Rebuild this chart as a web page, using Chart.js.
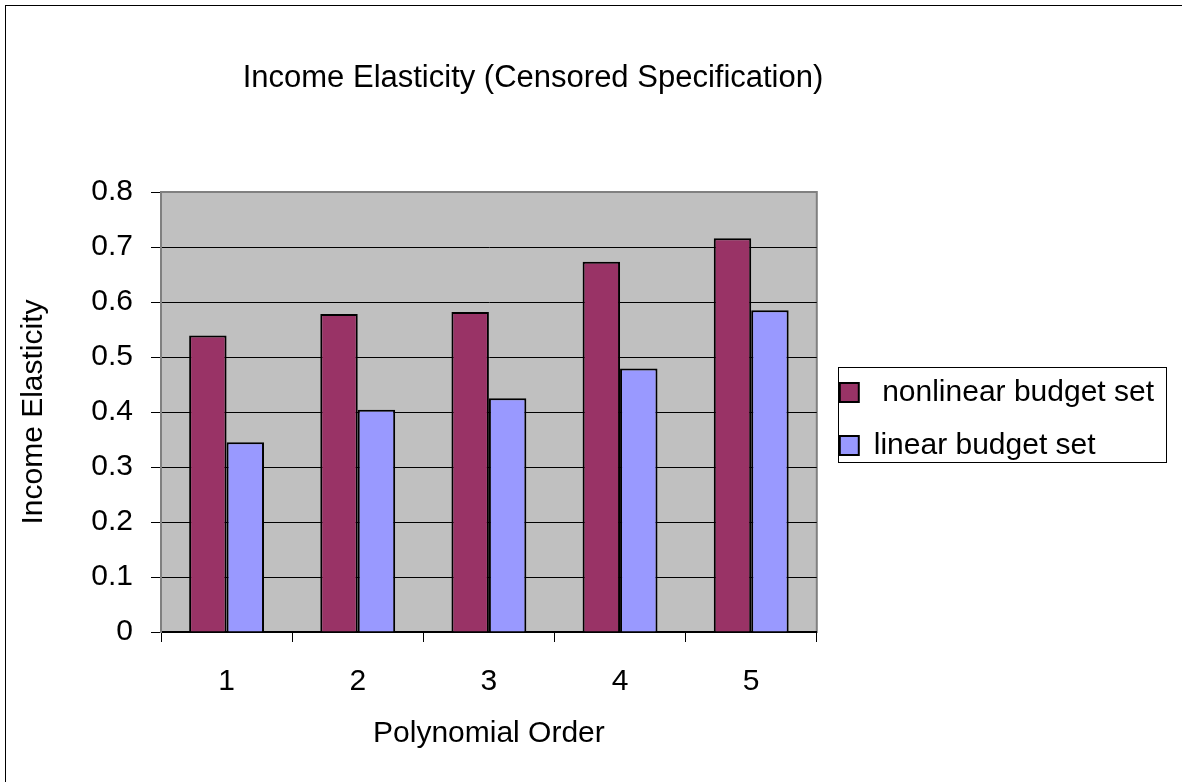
<!DOCTYPE html>
<html>
<head>
<meta charset="utf-8">
<title>Income Elasticity (Censored Specification)</title>
<script src="https://cdn.jsdelivr.net/npm/chart.js@4.4.1/dist/chart.umd.min.js"></script>
<style>
  html, body { margin: 0; padding: 0; background: #fff; }
</style>
</head>
<body>
<canvas id="elasticityChart" width="1182" height="782"></canvas>
<script>
// Estimated income elasticity by order of the polynomial
const polynomialOrders = ['1', '2', '3', '4', '5'];
const nonlinearBudgetSet = [0.539, 0.578, 0.582, 0.673, 0.716];
const linearBudgetSet = [0.345, 0.404, 0.425, 0.479, 0.585];
const elasticityTicks = [0, 0.1, 0.2, 0.3, 0.4, 0.5, 0.6, 0.7, 0.8];

const chartTitle = 'Income Elasticity (Censored Specification)';
const FONT = "'Liberation Sans', Arial, sans-serif";

// white page, outer frame, grey plot area, title and the legend border
const framePlugin = {
  id: 'frame',
  beforeDraw(chart) {
    const { ctx, chartArea: a } = chart;
    ctx.save();
    ctx.fillStyle = '#ffffff';
    ctx.fillRect(0, 0, chart.width, chart.height);
    ctx.strokeStyle = '#000000';
    ctx.lineWidth = 1;
    ctx.strokeRect(5.5, 5.5, chart.width + 20, chart.height + 20);

    ctx.fillStyle = '#c0c0c0';
    ctx.fillRect(a.left, a.top, a.right - a.left, a.bottom - a.top);
    ctx.strokeStyle = '#808080';
    ctx.lineWidth = 2;
    ctx.strokeRect(a.left, a.top, a.right - a.left, a.bottom - a.top);

    ctx.fillStyle = '#000000';
    ctx.font = '31px ' + FONT;
    ctx.textAlign = 'center';
    ctx.textBaseline = 'alphabetic';
    ctx.fillText(chartTitle, 533, 87);
    ctx.restore();
  },
  afterDraw(chart) {
    const boxes = chart.legend && chart.legend.legendHitBoxes;
    if (!boxes || !boxes.length) return;
    const left = Math.min(...boxes.map(b => b.left)) - 2;
    const right = Math.max(...boxes.map(b => b.left + b.width)) + 12;
    const top = boxes[0].top - 11;
    const last = boxes[boxes.length - 1];
    const bottom = last.top + last.height + 1;
    const { ctx } = chart;
    ctx.save();
    ctx.strokeStyle = '#000000';
    ctx.lineWidth = 1;
    ctx.strokeRect(Math.round(left) + 0.5, Math.round(top) + 0.5,
      Math.round(right - left), Math.round(bottom - top));
    ctx.restore();
  }
};

new Chart(document.getElementById('elasticityChart').getContext('2d'), {
  type: 'bar',
  data: {
    labels: polynomialOrders,
    datasets: [{
      label: ' nonlinear budget set',
      data: nonlinearBudgetSet,
      backgroundColor: '#993366',
      borderColor: '#000000',
      borderWidth: 2,
      categoryPercentage: 0.571,
      barPercentage: 1.0
    }, {
      label: 'linear budget set',
      data: linearBudgetSet,
      backgroundColor: '#9999ff',
      borderColor: '#000000',
      borderWidth: 2,
      categoryPercentage: 0.571,
      barPercentage: 1.0
    }]
  },
  options: {
    responsive: false,
    animation: false,
    devicePixelRatio: 1,
    layout: { padding: { left: 5, top: 192, right: 18, bottom: 10 } },
    plugins: {
      title: { display: false },
      tooltip: { enabled: false },
      legend: {
        position: 'right',
        fullSize: false,
        align: 'center',
        maxWidth: 360,
        // empty spacer title nudges the entries down a little
        title: { display: true, text: ' ', padding: 1, font: { size: 10 } },
        labels: {
          color: '#000000',
          boxWidth: 19,
          boxHeight: 19,
          padding: 23,
          font: { family: FONT, size: 30 }
        }
      }
    },
    scales: {
      x: {
        afterFit: scale => { scale.height = 140; },
        grid: {
          display: true,
          drawOnChartArea: false,
          drawTicks: true,
          tickLength: 10,
          color: '#000000'
        },
        border: { display: true, color: '#000000', width: 2 },
        ticks: {
          color: '#000000',
          padding: 22,
          font: { family: FONT, size: 30 }
        },
        title: {
          display: true,
          text: 'Polynomial Order',
          color: '#000000',
          padding: { top: 0, bottom: 20 },
          font: { family: FONT, size: 30 }
        }
      },
      y: {
        min: 0,
        max: 0.8,
        afterFit: scale => { scale.width = 156; },
        afterBuildTicks: scale => {
          scale.ticks = elasticityTicks.map(v => ({ value: v }));
        },
        grid: {
          color: ctx => (ctx.tick && ctx.tick.value === 0.8 ? '#808080' : '#000000'),
          tickColor: '#000000',
          lineWidth: 1,
          tickLength: 10
        },
        border: { display: true, color: '#808080', width: 2 },
        ticks: {
          color: '#000000',
          padding: 18,
          font: { family: FONT, size: 30 },
          callback: v => String(+v.toFixed(1))
        },
        title: {
          display: true,
          text: 'Income Elasticity',
          color: '#000000',
          padding: { top: 11, bottom: 0 },
          font: { family: FONT, size: 30 }
        }
      }
    }
  },
  plugins: [framePlugin]
});
</script>
</body>
</html>
